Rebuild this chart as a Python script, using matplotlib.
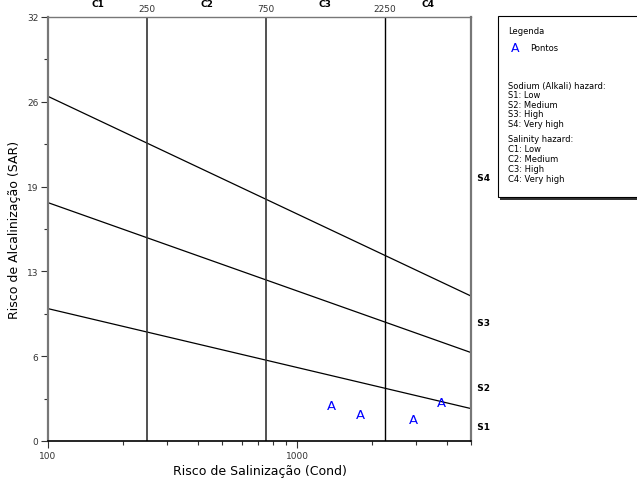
import numpy as np
import matplotlib.pyplot as plt
from matplotlib.patches import Rectangle
from matplotlib.ticker import FixedLocator, NullFormatter

# ==========================
# DATA
# ==========================
# sample points (conductivity, SAR)
cond = [1380, 1800, 2950, 3820]
sar = [2.7, 2.0, 1.6, 2.9]

# class limits on conductivity
c_limits = [250, 750, 2250]
c_names = ["C1", "C2", "C3", "C4"]
c_pos = [158, 433, 1299, 3354]

# sodium hazard boundaries: SAR = a - b*log10(C)
s_a = [18.87, 31.31, 43.75]
s_b = [4.44, 6.66, 8.87]
s_names = ["S1", "S2", "S3", "S4"]
s_pos = [1.06, 4.0, 8.98, 19.85]

y_ticks = [0, 6.4, 12.8, 19.2, 25.6, 32]
y_labels = ["0", "6", "13", "19", "26", "32"]
x_ticks = [100, 1000]
x_labels = ["100", "1000"]

legend_lines = ["Sodium (Alkali) hazard:", "S1: Low", "S2: Medium", "S3: High",
                "S4: Very high"]
legend_lines2 = ["Salinity hazard:", "C1: Low", "C2: Medium", "C3: High",
                 "C4: Very high"]

# ==========================
# PLOT
# ==========================
W, H = 637, 481
fig = plt.figure(figsize=(W / 100, H / 100), dpi=100)
ax = fig.add_axes([48 / W, 39 / H, 423 / W, 424 / H])

ax.set_xscale("log")
ax.set_xlim(100, 5000)
ax.set_ylim(0, 32)

# boundary lines
xs = np.array([100, 5000])
for a, b in zip(s_a, s_b):
    ax.plot(xs, a - b * np.log10(xs), color="black", lw=0.9)

# vertical limits
for i, c in enumerate(c_limits):
    ax.axvline(c, color="#333333" if i < 2 else "black", lw=1.2 if i < 2 else 1.0)
    ax.annotate(str(c), (c, 1), xycoords=("data", "axes fraction"),
                xytext=(0, 6), textcoords="offset points",
                ha="center", va="center", fontsize=6.5, color="#333333")

for name, c in zip(c_names, c_pos):
    ax.annotate(name, (c, 1), xycoords=("data", "axes fraction"),
                xytext=(0, 9.5), textcoords="offset points",
                ha="center", va="center", fontsize=6.5, fontweight="bold")

for name, s in zip(s_names, s_pos):
    ax.text(5000, s, "  " + name, ha="left", va="center", fontsize=6.5, fontweight="bold")

# points
for x, y in zip(cond, sar):
    ax.text(x, y, "A", color="blue", ha="center", va="center", fontsize=9.5)

# ticks
ax.yaxis.set_major_locator(FixedLocator(y_ticks))
ax.set_yticklabels(y_labels)
ax.yaxis.set_minor_locator(FixedLocator([3.2, 9.6, 16, 22.4, 28.8]))
ax.xaxis.set_major_locator(FixedLocator(x_ticks))
ax.set_xticklabels(x_labels)
minors = [v * d for d in (100, 1000) for v in range(2, 10) if v * d <= 5000]
ax.xaxis.set_minor_locator(FixedLocator(minors))
ax.xaxis.set_minor_formatter(NullFormatter())
ax.tick_params(axis="both", which="major", labelsize=6.5, length=5, width=0.8,
               colors="#333333", pad=2)
ax.tick_params(axis="both", which="minor", length=3, width=0.8, colors="#333333")

ax.spines["left"].set_color("#777777")
ax.spines["left"].set_linewidth(1.6)
ax.spines["right"].set_color("#777777")
ax.spines["right"].set_linewidth(1.6)
ax.spines["top"].set_color("#777777")
ax.spines["top"].set_linewidth(1.0)
ax.spines["bottom"].set_color("black")
ax.spines["bottom"].set_linewidth(1.2)

ax.set_xlabel("Risco de Salinização (Cond)", fontsize=9, labelpad=3)
ax.set_ylabel("Risco de Alcalinização (SAR)", fontsize=9, labelpad=4)

# ==========================
# LEGEND BOX
# ==========================
bx, by, bw, bh = 498, 17, 145, 181
fig.patches.append(Rectangle(((bx + 2) / W, 1 - (by + bh + 3) / H), bw / W, bh / H,
                             transform=fig.transFigure, facecolor="#333333",
                             edgecolor="none", zorder=1))
fig.patches.append(Rectangle((bx / W, 1 - (by + bh) / H), bw / W, bh / H,
                             transform=fig.transFigure, facecolor="white",
                             edgecolor="black", lw=0.8, zorder=2))


def ftext(x, y, s, **kw):
    fig.text(x / W, 1 - y / H, s, va="center", ha="left", **kw)


ftext(508, 32, "Legenda", fontsize=6)
ftext(511, 48, "A", fontsize=9, color="blue")
ftext(530, 49, "Pontos", fontsize=6)
for i, s in enumerate(legend_lines):
    ftext(508, 86 + i * 9.6, s, fontsize=6)
for i, s in enumerate(legend_lines2):
    ftext(508, 140 + i * 10, s, fontsize=6)

fig.savefig("out.png", dpi=100)
